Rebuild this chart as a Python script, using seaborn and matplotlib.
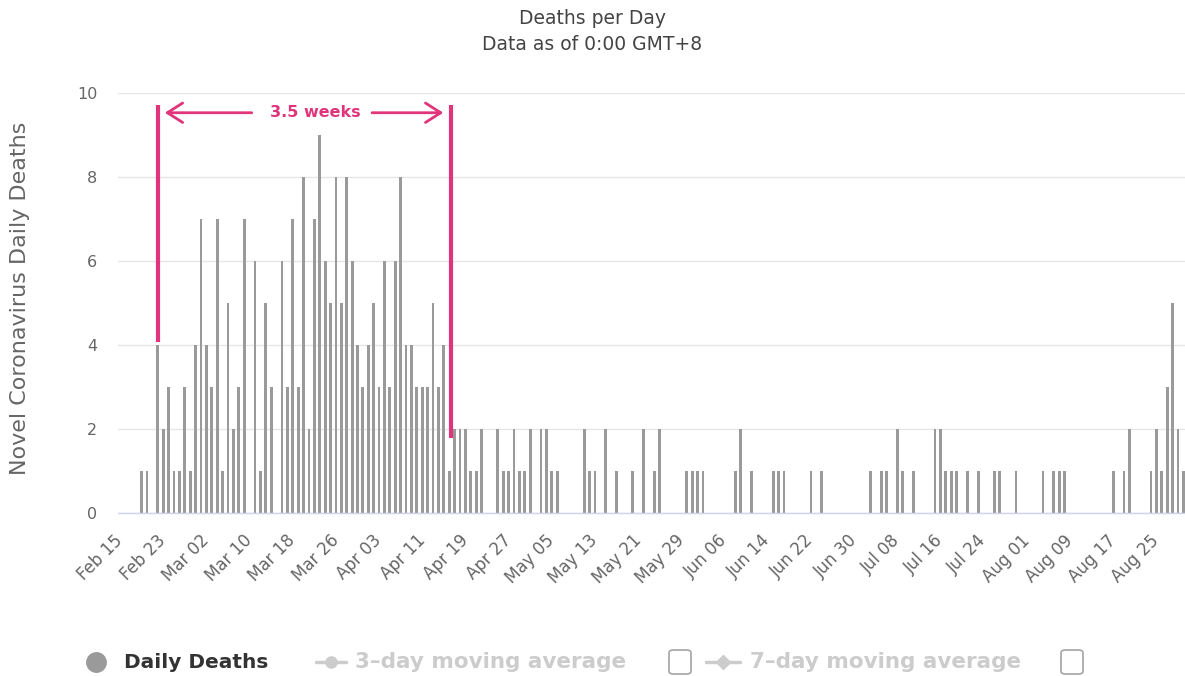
import matplotlib
matplotlib.use("Agg")
import matplotlib.pyplot as plt
import seaborn as sns
import pandas as pd
from matplotlib.lines import Line2D
from matplotlib.patches import FancyBboxPatch

# ---------------- data ----------------
dates = [
    "2020-02-19", "2020-02-20", "2020-02-22", "2020-02-23", "2020-02-24", "2020-02-25",
    "2020-02-26", "2020-02-27", "2020-02-28", "2020-02-29", "2020-03-01", "2020-03-02",
    "2020-03-03", "2020-03-04", "2020-03-05", "2020-03-06", "2020-03-07", "2020-03-08",
    "2020-03-09", "2020-03-11", "2020-03-12", "2020-03-13", "2020-03-14", "2020-03-16",
    "2020-03-17", "2020-03-18", "2020-03-19", "2020-03-20", "2020-03-21", "2020-03-22",
    "2020-03-23", "2020-03-24", "2020-03-25", "2020-03-26", "2020-03-27", "2020-03-28",
    "2020-03-29", "2020-03-30", "2020-03-31", "2020-04-01", "2020-04-02", "2020-04-03",
    "2020-04-04", "2020-04-05", "2020-04-06", "2020-04-07", "2020-04-08", "2020-04-09",
    "2020-04-10", "2020-04-11", "2020-04-12", "2020-04-13", "2020-04-14", "2020-04-15",
    "2020-04-16", "2020-04-17", "2020-04-18", "2020-04-19", "2020-04-20", "2020-04-21",
    "2020-04-22", "2020-04-25", "2020-04-26", "2020-04-27", "2020-04-28", "2020-04-29",
    "2020-04-30", "2020-05-01", "2020-05-03", "2020-05-04", "2020-05-05", "2020-05-06",
    "2020-05-11", "2020-05-12", "2020-05-13", "2020-05-15", "2020-05-17", "2020-05-20",
    "2020-05-22", "2020-05-24", "2020-05-25", "2020-05-30", "2020-05-31", "2020-06-01",
    "2020-06-02", "2020-06-08", "2020-06-09", "2020-06-11", "2020-06-15", "2020-06-16",
    "2020-06-17", "2020-06-22", "2020-06-24", "2020-07-03", "2020-07-05", "2020-07-06",
    "2020-07-08", "2020-07-09", "2020-07-11", "2020-07-15", "2020-07-16", "2020-07-17",
    "2020-07-18", "2020-07-19", "2020-07-21", "2020-07-23", "2020-07-26", "2020-07-27",
    "2020-07-30", "2020-08-04", "2020-08-06", "2020-08-07", "2020-08-08", "2020-08-17",
    "2020-08-19", "2020-08-20", "2020-08-24", "2020-08-25", "2020-08-26", "2020-08-27",
    "2020-08-28", "2020-08-29", "2020-08-30",
]
daily_deaths = [
    1, 1, 4, 2, 3, 1,
    1, 3, 1, 4, 7, 4,
    3, 7, 1, 5, 2, 3,
    7, 6, 1, 5, 3, 6,
    3, 7, 3, 8, 2, 7,
    9, 6, 5, 8, 5, 8,
    6, 4, 3, 4, 5, 3,
    6, 3, 6, 8, 4, 4,
    3, 3, 3, 5, 3, 4,
    1, 2, 2, 2, 1, 1,
    2, 2, 1, 1, 2, 1,
    1, 2, 2, 2, 1, 1,
    2, 1, 1, 2, 1, 1,
    2, 1, 2, 1, 1, 1,
    1, 1, 2, 1, 1, 1,
    1, 1, 1, 1, 1, 1,
    2, 1, 1, 2, 2, 1,
    1, 1, 1, 1, 1, 1,
    1, 1, 1, 1, 1, 1,
    1, 2, 1, 2, 1, 3,
    5, 2, 1,
]
tick_labels = [
    "Feb 15", "Feb 23", "Mar 02", "Mar 10", "Mar 18", "Mar 26", "Apr 03", "Apr 11",
    "Apr 19", "Apr 27", "May 05", "May 13", "May 21", "May 29", "Jun 06", "Jun 14",
    "Jun 22", "Jun 30", "Jul 08", "Jul 16", "Jul 24", "Aug 01", "Aug 09", "Aug 17",
    "Aug 25",
]
y_ticks = [0, 2, 4, 6, 8, 10]
title = "Deaths per Day"
subtitle = "Data as of 0:00 GMT+8"
y_label = "Novel Coronavirus Daily Deaths"
span_label = "3.5 weeks"
span_start = "2020-02-22"
span_end = "2020-04-16"
legend_items = ["Daily Deaths", "3\u2013day moving average", "7\u2013day moving average"]

# ---------------- prep ----------------
origin = pd.Timestamp("2020-02-15")
df = pd.DataFrame({"date": pd.to_datetime(dates), "deaths": daily_deaths})
df["day"] = (df["date"] - origin).dt.days
tick_pos = [(pd.Timestamp(f"{t} 2020") - origin).days for t in tick_labels]
x0 = (pd.Timestamp(span_start) - origin).days
x1 = (pd.Timestamp(span_end) - origin).days + 0.4

W, H = 1185, 676
sns.set_style("white")
plt.rcParams["font.family"] = ["DejaVu Sans"]

fig = plt.figure(figsize=(W / 100, H / 100), dpi=100)
ax = fig.add_axes([118 / W, 1 - 513 / H, (W - 118) / W, 420 / H])

BAR = "#9a9a9a"
PINK = "#e0357b"
sns.barplot(data=df, x="day", y="deaths", native_scale=True, color=BAR,
            saturation=1, width=0.52, linewidth=0, errorbar=None, ax=ax)

ax.set_xlim(-0.37, 197.3)
ax.set_ylim(0, 10)
ax.set_yticks(y_ticks)
ax.set_yticklabels([str(v) for v in y_ticks], fontsize=11.5, color="#666666")
ax.set_xticks(tick_pos)
ax.set_xticklabels(tick_labels, rotation=45, ha="right", va="center",
                   rotation_mode="anchor", fontsize=12, color="#666666")
ax.tick_params(axis="x", length=0, pad=18)
ax.tick_params(axis="y", length=0, pad=15)
ax.grid(axis="y", color="#e6e6e6", linewidth=1)
ax.grid(axis="x", visible=False)
ax.set_axisbelow(True)
for s in ["top", "right", "left"]:
    ax.spines[s].set_visible(False)
ax.spines["bottom"].set_color("#ccd6eb")
ax.spines["bottom"].set_linewidth(1)
ax.set_xlabel("")
ax.set_ylabel("")

# annotation
ax.plot([x0, x0], [4.08, 9.72], color=PINK, lw=3, solid_capstyle="butt", clip_on=False)
ax.plot([x1, x1], [1.78, 9.72], color=PINK, lw=3, solid_capstyle="butt", clip_on=False)
ymid = 9.53
xmid = 36.2
ax.text(xmid, ymid, span_label, ha="center", va="center", fontsize=11.5,
        fontweight="bold", color=PINK)
aprops = dict(arrowstyle="->,head_length=0.55,head_width=0.35", color=PINK, lw=2,
              shrinkA=0, shrinkB=0, mutation_scale=20)
ax.annotate("", xy=(x0 + 1.3, ymid), xytext=(xmid - 11.8, ymid), arrowprops=aprops)
ax.annotate("", xy=(x1 - 1.5, ymid), xytext=(xmid + 10.5, ymid), arrowprops=aprops)

# titles
fig.text(0.5, 1 - 18 / H, title, ha="center", va="center", fontsize=13.5, color="#444444")
fig.text(0.5, 1 - 45 / H, subtitle, ha="center", va="center", fontsize=13.5, color="#444444")
fig.text(20 / W, 1 - 298 / H, y_label, ha="center", va="center", rotation=90,
         fontsize=16, color="#666666")

# legend
def fx(px):
    return px / W

def fy(py):
    return 1 - py / H

ly = 662
fig.add_artist(Line2D([fx(96)], [fy(ly)], marker="o", markersize=14, color="#9a9a9a",
                      transform=fig.transFigure))
fig.text(fx(124), fy(ly), legend_items[0], ha="left", va="center", fontsize=14.5,
         fontweight="bold", color="#333333")
fig.add_artist(Line2D([fx(316), fx(346)], [fy(ly), fy(ly)], marker=None, lw=2.5,
                      color="#cccccc", transform=fig.transFigure))
fig.add_artist(Line2D([fx(331)], [fy(ly)], marker="o", markersize=8, color="#cccccc",
                      transform=fig.transFigure))
fig.text(fx(355), fy(ly), legend_items[1], ha="left", va="center", fontsize=15.5,
         fontweight="bold", color="#cccccc")
fig.add_artist(Line2D([fx(706), fx(740)], [fy(ly), fy(ly)], lw=2.5, color="#cccccc",
                      transform=fig.transFigure))
fig.add_artist(Line2D([fx(723)], [fy(ly)], marker="D", markersize=7, color="#cccccc",
                      transform=fig.transFigure))
fig.text(fx(750), fy(ly), legend_items[2], ha="left", va="center", fontsize=15.5,
         fontweight="bold", color="#cccccc")
for cx in (680, 1072):
    fig.add_artist(FancyBboxPatch((fx(cx - 11), fy(ly + 12)), fx(22), 24 / H,
                                  boxstyle="round,pad=0,rounding_size=0.004",
                                  fill=False, edgecolor="#aaaaaa", lw=1.3,
                                  transform=fig.transFigure))

fig.savefig("out.png", dpi=100)
